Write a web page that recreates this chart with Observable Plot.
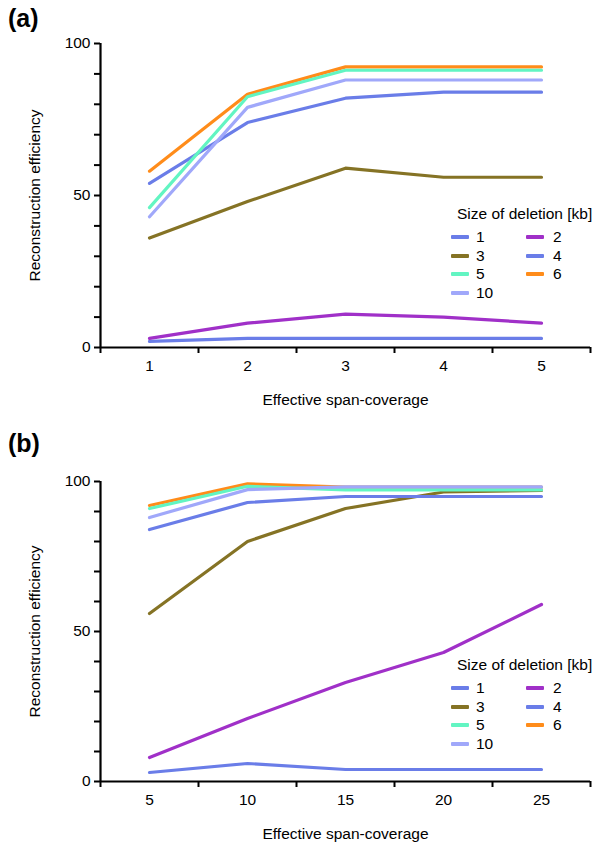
<!DOCTYPE html>
<html>
<head>
<meta charset="utf-8">
<script src="https://cdn.jsdelivr.net/npm/d3@7"></script>
<script src="https://cdn.jsdelivr.net/npm/@observablehq/plot@0.6"></script>
<style>
  html, body { margin: 0; padding: 0; background: #fff; }
  body { font-family: "Liberation Sans", Arial, Helvetica, sans-serif; color: #000; }
  #wrap { position: relative; width: 600px; height: 847px; overflow: hidden; }
  .panel { position: absolute; left: 0; }
  .tag { position: absolute; font-weight: bold; font-size: 25px; line-height: 1; }
  .legend { position: absolute; font-size: 15.5px; }
  .legend .ttl { position: absolute; white-space: nowrap; line-height: 1; }
  .legend .sw { position: absolute; width: 18px; height: 3.5px; border-radius: 1px; }
  .legend .lb { position: absolute; line-height: 1; white-space: nowrap; }
</style>
</head>
<body>
<div id="wrap"></div>
<script>
// ---- data ----
const sizes = ["1", "2", "3", "4", "5", "6", "10"];
const sizeColors = ["#6a7de8", "#a030c8", "#857325", "#6a7de8", "#62f5c2", "#ff8c1a", "#a0a8fa"];
const drawOrder = ["1", "2", "3", "4", "6", "5", "10"];

// panel (a)
const coverageA = [1, 2, 3, 4, 5];
const effA_1  = [2, 3, 3, 3, 3];
const effA_2  = [3, 8, 11, 10, 8];
const effA_3  = [36, 48, 59, 56, 56];
const effA_4  = [54, 74, 82, 84, 84];
const effA_5  = [46, 82.5, 91.2, 91.2, 91.2];
const effA_6  = [58, 83.3, 92.3, 92.3, 92.3];
const effA_10 = [43, 79, 88, 88, 88];

// panel (b)
const coverageB = [5, 10, 15, 20, 25];
const effB_1  = [3, 6, 4, 4, 4];
const effB_2  = [8, 21, 33, 43, 59];
const effB_3  = [56, 80, 91, 96.5, 97];
const effB_4  = [84, 93, 95, 95, 95];
const effB_5  = [91, 98.4, 97.2, 97.2, 97.2];
const effB_6  = [92, 99.2, 98.1, 98.1, 98.1];
const effB_10 = [88, 97.3, 98.2, 98.2, 98.2];

const yTicks = [0, 10, 20, 30, 40, 50, 60, 70, 80, 90, 100];
const yLabelled = [0, 50, 100];
const legendTitle = "Size of deletion [kb]";
const xTitle = "Effective span-coverage";
const yTitle = "Reconstruction efficiency";

const seriesA = {"1": effA_1, "2": effA_2, "3": effA_3, "4": effA_4, "5": effA_5, "6": effA_6, "10": effA_10};
const seriesB = {"1": effB_1, "2": effB_2, "3": effB_3, "4": effB_4, "5": effB_5, "6": effB_6, "10": effB_10};

const FONT = "'Liberation Sans', Arial, Helvetica, sans-serif";

function makePanel(cov, series, height, mt, mb) {
  const step = cov[1] - cov[0];
  const x0 = cov[0] - step / 2, x1 = cov[cov.length - 1] + step / 2;
  const bounds = d3.range(cov.length + 1).map(i => x0 + i * step);
  const rows = [];
  drawOrder.forEach(k => series[k].forEach((v, i) => rows.push({size: k, x: cov[i], y: v})));
  return Plot.plot({
    width: 600, height,
    marginLeft: 100, marginRight: 10, marginTop: mt, marginBottom: mb,
    style: {fontFamily: FONT, fontSize: "15.5px", background: "white", color: "black", overflow: "visible"},
    x: {domain: [x0, x1]},
    y: {domain: [0, 100]},
    color: {domain: sizes, range: sizeColors},
    marks: [
      Plot.line(rows, {x: "x", y: "y", z: "size", stroke: "size", strokeWidth: 3.2, sort: null}),
      Plot.axisY({ticks: yTicks, tickSize: 6, tickPadding: 4, strokeWidth: 2,
        tickFormat: d => yLabelled.includes(d) ? String(d) : "",
        label: yTitle, labelAnchor: "center", labelArrow: "none", labelOffset: 72}),
      Plot.axisX({ticks: bounds, tickSize: 6, strokeWidth: 2, tickFormat: () => "", label: null}),
      Plot.axisX({ticks: cov, tickSize: 0, tickPadding: 12, tickFormat: d => String(d),
        label: xTitle, labelAnchor: "center", labelArrow: "none", labelOffset: 57}),
      Plot.ruleY([0], {strokeWidth: 2.2}),
      Plot.ruleX([x0], {strokeWidth: 2.2})
    ]
  });
}

function makeLegend(top) {
  const el = document.createElement("div");
  el.className = "legend";
  el.style.left = "0px"; el.style.top = top + "px";
  const t = document.createElement("div");
  t.className = "ttl"; t.textContent = legendTitle;
  t.style.left = "457px"; t.style.top = "-8px";
  el.appendChild(t);
  const rowY = [23, 42, 60, 79];
  const colSw = [451, 526], colTx = [476, 553];
  sizes.forEach((s, i) => {
    const r = Math.floor(i / 2), c = i % 2;
    const sw = document.createElement("div");
    sw.className = "sw";
    sw.style.background = sizeColors[i];
    sw.style.left = colSw[c] + "px"; sw.style.top = (rowY[r] - 1.75) + "px";
    el.appendChild(sw);
    const lb = document.createElement("div");
    lb.className = "lb"; lb.textContent = s;
    lb.style.left = colTx[c] + "px"; lb.style.top = (rowY[r] - 8) + "px";
    el.appendChild(lb);
  });
  return el;
}

const wrap = document.getElementById("wrap");

const pA = makePanel(coverageA, seriesA, 430, 43, 83);
pA.classList.add("panel"); pA.style.top = "0px";
wrap.appendChild(pA);

const pB = makePanel(coverageB, seriesB, 417, 51, 66);
pB.classList.add("panel"); pB.style.top = "430px";
wrap.appendChild(pB);

const tagA = document.createElement("div");
tagA.className = "tag"; tagA.textContent = "(a)";
tagA.style.left = "8px"; tagA.style.top = "6px";
wrap.appendChild(tagA);

const tagB = document.createElement("div");
tagB.className = "tag"; tagB.textContent = "(b)";
tagB.style.left = "8px"; tagB.style.top = "431px";
wrap.appendChild(tagB);

wrap.appendChild(makeLegend(214));
wrap.appendChild(makeLegend(665));
</script>
</body>
</html>
